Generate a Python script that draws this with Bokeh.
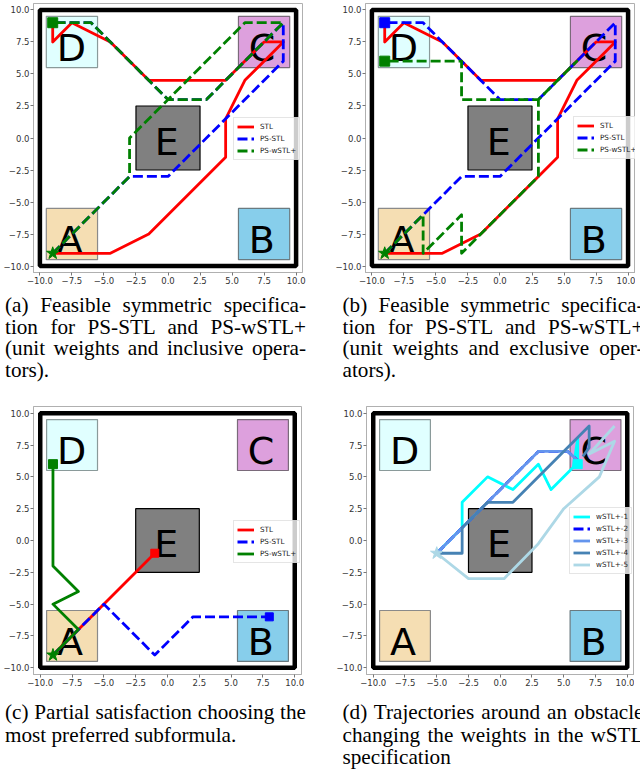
from bokeh.plotting import figure
from bokeh.models import Range1d, FixedTicker, Legend, LegendItem, Div, ColumnDataSource
from bokeh.layouts import row, column
from bokeh.core.properties import value
from bokeh.embed import file_html
from bokeh.resources import INLINE

# ---------------- data ----------------
region_names = ["A", "B", "C", "D", "E"]
region_x0 = [-9.5, 5.5, 5.5, -9.5, -2.5]
region_x1 = [-5.5, 9.5, 9.5, -5.5, 2.5]
region_y0 = [-9.5, -9.5, 5.5, 5.5, -2.5]
region_y1 = [-5.5, -5.5, 9.5, 9.5, 2.5]
region_fill = ["#f5deb3", "#87ceeb", "#dda0dd", "#e0ffff", "#808080"]
region_edge = ["#8a8a8a", "#6a7a80", "#7a6a7a", "#8a9a9a", "#000000"]
label_x = [-9, 6, 6, -9, -1.35]
label_y = [-9, -9, 6, 6, -1.3]
bound_lo = [-10]
bound_hi = [10]

tick_values = [-10, -7.5, -5, -2.5, 0, 2.5, 5, 7.5, 10]
tick_labels = ["\u221210.0", "\u22127.5", "\u22125.0", "\u22122.5", "0.0", "2.5", "5.0", "7.5", "10.0"]

# (a) unit weights, inclusive operators
a_stl_x = [-9, -4.5, -1.5, 4.5, 4.5, 6, 7.5, 9, 7.5, 4.5, -1.5, -4.5, -7.5, -8.5, -9, -9]
a_stl_y = [-9, -9, -7.5, -1.5, 1.5, 4.5, 6, 7.5, 7.5, 4.5, 4.5, 7.5, 9, 8, 7.5, 9]
a_ps_x = [-9, -3, 0, 9, 9, 3, 0, -6, -9]
a_ps_y = [-9, -3, -3, 6, 9, 3, 3, 9, 9]
a_w_x = [-9, -3, -3, 6, 9, 3, 0, -6, -9]
a_w_y = [-9, -3, 0, 9, 9, 3, 3, 9, 9]

# (b) unit weights, exclusive operators
b_stl_x = [-9, -4.5, -1.5, 3, 4.5, 4.5, 6, 7.5, 9, 7.5, 4.5, -1.5, -4.5, -7.5, -8.5, -9, -9]
b_stl_y = [-9, -9, -7.5, -3, -1.5, 1.5, 4.5, 6, 7.5, 7.5, 4.5, 4.5, 7.5, 9, 8, 7.5, 9]
b_ps_x = [-9, -3, 0, 9, 9, 3, 0, -6, -9]
b_ps_y = [-9, -3, -3, 6, 9, 3, 3, 9, 9]
b_w_x = [-9, -6, -6, -3, -3, -1.5, 3, 3, 6, 3, -3, -3, -9]
b_w_y = [-9, -6, -9, -6, -9, -7.5, -3, 3, 6, 3, 3, 6, 6]

# (c) partial satisfaction
c_stl_x = [-9, -1]
c_stl_y = [-9, -1]
c_ps_x = [-9, -5, -1, 2, 8]
c_ps_y = [-9, -5, -9, -6, -6]
c_w_x = [-9, -7, -9, -7, -9, -9]
c_w_y = [-9, -7, -5, -4, -2, 6]

# (d) trajectories around obstacle, varying weights
d1_x = [-5, -3, -3, -1, 1, 3, 4, 5.75, 6.1, 6.1]
d1_y = [-1, 1, 3, 5, 4, 6, 4, 5.75, 8, 6]
d2_x = [-5, 3, 5.3, 6.1]
d2_y = [-1, 7, 7, 6.3]
d3_x = [-5, 3, 5.3, 6.1]
d3_y = [-1, 7, 7, 6.3]
d4_x = [-5, -3, -3, -1, 1, 7, 7, 6.5]
d4_y = [-1, -1, 1, 3, 3, 9, 7.3, 6.6]
d5_x = [-5, -2.5, 0.3, 3, 5, 7.8, 9, 7, 9]
d5_y = [-1, -3, -3, -0.25, 2.5, 5, 7.8, 6.8, 9]

LW = 2.8
DASH = "10 4"


def make_panel(xr, yr, fw, fh, bl, br, bt, bb):
    p = figure(x_range=Range1d(*xr), y_range=Range1d(*yr),
               frame_width=fw, frame_height=fh,
               min_border_left=bl, min_border_right=br,
               min_border_top=bt, min_border_bottom=bb,
               output_backend="svg", toolbar_location=None, title=None)
    p.grid.visible = False
    p.outline_line_color = "#b0b0b0"
    p.background_fill_color = "white"
    p.border_fill_color = "white"
    for ax in (p.xaxis[0], p.yaxis[0]):
        ax.ticker = FixedTicker(ticks=tick_values)
        ax.major_label_overrides = dict(zip(tick_values, tick_labels))
        ax.major_label_text_font = "DejaVu Sans"
        ax.major_label_text_font_size = "8.5px"
        ax.major_label_text_color = "#333333"
        ax.major_tick_out = 3
        ax.major_tick_in = 0
        ax.major_tick_line_color = "#777777"
        ax.axis_line_color = "#b0b0b0"
        ax.major_label_standoff = 1
    src = ColumnDataSource(dict(x0=region_x0, x1=region_x1, y0=region_y0, y1=region_y1,
                                fill=region_fill, edge=region_edge, name=region_names,
                                lx=label_x, ly=label_y))
    p.quad(left="x0", right="x1", bottom="y0", top="y1", fill_color="fill",
           line_color="edge", line_width=1.2, source=src)
    p.text(x="lx", y="ly", text="name", source=src, text_font=value("DejaVu Sans"),
           text_font_size="38px", text_color="black", text_align="left",
           text_baseline="alphabetic", x_offset=4, y_offset=-13)
    p.quad(left=bound_lo, right=bound_hi, bottom=bound_lo, top=bound_hi,
           fill_color=None, line_color="black", line_width=4.5)
    return p


def style_legend(p, items, loc):
    lg = Legend(items=items, location=loc)
    lg.label_text_font = "DejaVu Sans"
    lg.label_text_font_size = "7.2px"
    lg.label_text_color = "#222222"
    lg.glyph_width = 17
    lg.glyph_height = 11
    lg.label_height = 11
    lg.label_standoff = 6
    lg.spacing = 1
    lg.padding = 3
    lg.margin = 0
    lg.border_line_color = "#cccccc"
    lg.background_fill_alpha = 0.8
    p.add_layout(lg)


def line(p, xs, ys, color, dash="solid"):
    return p.line(xs, ys, line_color=color, line_width=LW, line_dash=dash,
                  line_join="round")


# ---- (a)
pa = make_panel((-10.5, 10.5), (-10.5, 10.5), 269, 269, 31, 30, 0, 19)
ra = line(pa, a_stl_x, a_stl_y, "#ff0000")
rb = line(pa, a_ps_x, a_ps_y, "#0000ff", DASH)
rc = line(pa, a_w_x, a_w_y, "#008000", DASH)
pa.scatter([a_w_x[-1]], [a_w_y[-1]], marker="square", size=10, color="#008000")
pa.scatter([a_w_x[0]], [a_w_y[0]], marker="star", size=13, color="#008000")
style_legend(pa, [LegendItem(label="STL", renderers=[ra]),
                  LegendItem(label="PS-STL", renderers=[rb]),
                  LegendItem(label="PS-wSTL+", renderers=[rc])], (200, 112))

# ---- (b)
pb = make_panel((-10.5, 10.58), (-10.5, 10.5), 270, 269, 32, 0, 3, 16)
ra = line(pb, b_stl_x, b_stl_y, "#ff0000")
rb = line(pb, b_ps_x, b_ps_y, "#0000ff", DASH)
rc = line(pb, b_w_x, b_w_y, "#008000", DASH)
pb.scatter([b_ps_x[-1]], [b_ps_y[-1]], marker="square", size=10, color="#0000ff")
pb.scatter([b_w_x[-1]], [b_w_y[-1]], marker="square", size=10, color="#008000")
pb.scatter([b_w_x[0]], [b_w_y[0]], marker="star", size=13, color="#008000")
style_legend(pb, [LegendItem(label="STL", renderers=[ra]),
                  LegendItem(label="PS-STL", renderers=[rb]),
                  LegendItem(label="PS-wSTL+", renderers=[rc])], (208, 113))

# ---- (c)
pc = make_panel((-10.53, 10.53), (-10.53, 10.53), 268, 268, 31, 31, 18, 21)
ra = line(pc, c_stl_x, c_stl_y, "#ff0000")
rb = line(pc, c_ps_x, c_ps_y, "#0000ff", DASH)
rc = line(pc, c_w_x, c_w_y, "#008000")
pc.scatter([c_stl_x[-1]], [c_stl_y[-1]], marker="square", size=8, color="#ff0000")
pc.scatter([c_ps_x[-1]], [c_ps_y[-1]], marker="square", size=8, color="#0000ff")
pc.scatter([c_w_x[-1]], [c_w_y[-1]], marker="square", size=9, color="#008000")
pc.scatter([c_w_x[0]], [c_w_y[0]], marker="star", size=13, color="#008000")
style_legend(pc, [LegendItem(label="STL", renderers=[ra]),
                  LegendItem(label="PS-STL", renderers=[rb]),
                  LegendItem(label="PS-wSTL+", renderers=[rc])], (200, 111))

# ---- (d)
pd_ = make_panel((-10.53, 10.57), (-10.53, 10.53), 268, 268, 34, 0, 17, 22)
r1 = line(pd_, d1_x, d1_y, "#00ffff")
r2 = line(pd_, d2_x, d2_y, "#0000ff", DASH)
r3 = line(pd_, d3_x, d3_y, "#6495ed")
r4 = line(pd_, d4_x, d4_y, "#4682b4")
r5 = line(pd_, d5_x, d5_y, "#add8e6")
pd_.scatter([d1_x[-1]], [d1_y[-1]], marker="square", size=9, color="#00ffff")
pd_.scatter([d5_x[0]], [d5_y[0]], marker="star", size=13, color="#add8e6")
style_legend(pd_, [LegendItem(label="wSTL+-1", renderers=[r1]),
                   LegendItem(label="wSTL+-2", renderers=[r2]),
                   LegendItem(label="wSTL+-3", renderers=[r3]),
                   LegendItem(label="wSTL+-4", renderers=[r4]),
                   LegendItem(label="wSTL+-5", renderers=[r5])], (203, 100))

# ---------------- captions ----------------
cap_a = ["(a) Feasible symmetric specifica-", "tion for PS-STL and PS-wSTL+",
         "(unit weights and inclusive opera-", "tors)."]
cap_b = ["(b) Feasible symmetric specifica-", "tion for PS-STL and PS-wSTL+",
         "(unit weights and exclusive oper-", "ators)."]
cap_c = ["(c) Partial satisfaction choosing the", "most preferred subformula."]
cap_d = ["(d) Trajectories around an obstacle", "changing the weights in the wSTL",
         "specification"]


def caption(lines, box_w, box_h, pad, lh, pad_top):
    inner = ""
    for i, ln in enumerate(lines):
        al = "left" if i == len(lines) - 1 else "justify"
        inner += ('<div style="width:301px;text-align:%s;text-align-last:%s;">%s</div>'
                  % (al, al, ln))
    html = ('<div style="width:%dpx;overflow-x:clip;overflow-y:visible;box-sizing:border-box;'
            'padding-left:%spx;padding-top:%spx;font-family:\'Liberation Serif\';'
            'font-size:21.2px;line-height:%spx;color:#000;">%s</div>'
            % (box_w, pad, pad_top, lh, inner))
    return Div(text=html, width=box_w, height=box_h)


layout = column(
    row(pa, pb),
    row(caption(cap_a, 324, 90, 0, 21.5, 2), caption(cap_b, 308, 90, 3.5, 21.5, 2)),
    row(pc, pd_),
    row(caption(cap_c, 324, 71, 0, 22.5, 1), caption(cap_d, 308, 71, 3.5, 22.5, 1)),
)

open("out.html", "w").write(file_html(layout, INLINE))
